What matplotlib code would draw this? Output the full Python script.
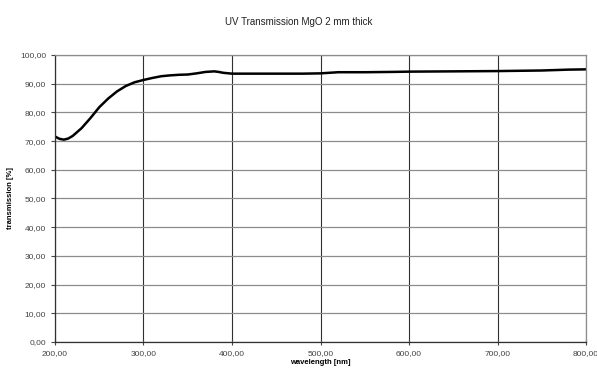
import numpy as np
import matplotlib.pyplot as plt
from matplotlib.ticker import FuncFormatter

plt.rcParams["font.family"] = ["Liberation Sans", "DejaVu Sans"]

# data
wavelength = [200, 205, 210, 215, 220, 230, 240, 250, 260, 270, 280, 290, 300,
              310, 320, 330, 340, 350, 360, 370, 380, 385, 390, 400, 420, 450,
              480, 500, 520, 550, 580, 600, 650, 700, 750, 780, 800]
transmission = [71.6, 70.8, 70.5, 70.9, 71.8, 74.5, 78.0, 81.8, 84.8, 87.3, 89.2,
                90.5, 91.3, 92.0, 92.6, 92.9, 93.1, 93.2, 93.6, 94.1, 94.3, 94.1,
                93.8, 93.5, 93.5, 93.5, 93.5, 93.6, 94.0, 94.0, 94.1, 94.2, 94.3,
                94.4, 94.6, 94.9, 95.0]

xticks = [200, 300, 400, 500, 600, 700, 800]
yticks = [0, 10, 20, 30, 40, 50, 60, 70, 80, 90, 100]

fig = plt.figure(figsize=(5.97, 3.76), dpi=100)
ax = fig.add_axes([55/597, 1 - 342/376, (586 - 55)/597, (342 - 55)/376])

ax.plot(wavelength, transmission, color="black", linewidth=1.8)

ax.set_xlim(200, 800)
ax.set_ylim(0, 100)
ax.set_xticks(xticks)
ax.set_yticks(yticks)
fmt = FuncFormatter(lambda v, p: ("%.2f" % v).replace(".", ","))
ax.xaxis.set_major_formatter(fmt)
ax.yaxis.set_major_formatter(fmt)
ax.tick_params(labelsize=6, colors="#444444", length=3, width=0.8)
ax.tick_params(axis="x", direction="inout", length=4)
ax.tick_params(axis="y", direction="out", length=3)

ax.grid(axis="y", color="#8c8c8c", linewidth=0.9)
ax.grid(axis="x", color="#303030", linewidth=0.8)
for s in ["top", "right"]:
    ax.spines[s].set_color("#8c8c8c")
    ax.spines[s].set_linewidth(0.9)
for s in ["left", "bottom"]:
    ax.spines[s].set_color("#303030")
    ax.spines[s].set_linewidth(0.9)

ax.set_xlabel("wavelength [nm]", fontsize=5.5, fontweight="bold", labelpad=2)
ax.set_ylabel("transmission [%]", fontsize=5.5, fontweight="bold", labelpad=4)
fig.text(0.5, 1 - 22/376, "UV Transmission MgO 2 mm thick", ha="center",
         va="center", fontsize=7, color="#222222")

plt.savefig("out.png", dpi=100)
